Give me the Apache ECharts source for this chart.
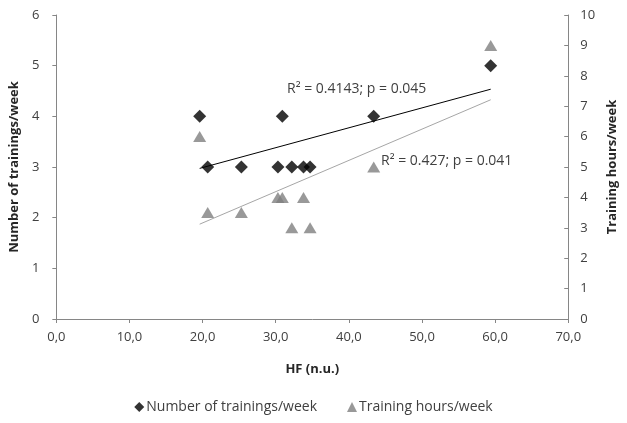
<!DOCTYPE html>
<html>
<head>
<meta charset="utf-8">
<script src="https://cdn.jsdelivr.net/npm/echarts@6/dist/echarts.min.js"></script>
<style>
  html, body { margin: 0; padding: 0; background: #fff; }
  #chart { width: 627px; height: 423px; }
</style>
</head>
<body>
<div id="chart"></div>
<script>
// HF (n.u.) of each subject
const hf = [19.6, 20.7, 25.3, 30.3, 30.9, 32.2, 33.8, 34.7, 43.4, 59.4];
// Number of trainings per week (left axis)
const trainings = [4, 3, 3, 3, 4, 3, 3, 3, 4, 5];
// Training hours per week (right axis)
const hours = [6, 3.5, 3.5, 4, 4, 3, 4, 3, 5, 9];

const xTicks = { min: 0, max: 70, interval: 10 };
const leftTicks = { min: 0, max: 6, interval: 1 };
const rightTicks = { min: 0, max: 10, interval: 1 };

const labelTrainings = 'R\u00B2 = 0.4143; p = 0.045';
const labelHours = 'R\u00B2 = 0.427; p = 0.041';

// Least-squares line through the points, drawn from smallest to largest x
function fitLine(xs, ys) {
  const n = xs.length;
  const mx = xs.reduce((a, b) => a + b, 0) / n;
  const my = ys.reduce((a, b) => a + b, 0) / n;
  let sxy = 0, sxx = 0;
  for (let i = 0; i < n; i++) {
    sxy += (xs[i] - mx) * (ys[i] - my);
    sxx += (xs[i] - mx) * (xs[i] - mx);
  }
  const k = sxy / sxx, b = my - k * mx;
  const x0 = Math.min(...xs), x1 = Math.max(...xs);
  return [[x0, k * x0 + b], [x1, k * x1 + b]];
}

const font = "'Open Sans', sans-serif";
const axisLine = { show: true, lineStyle: { color: '#868686', width: 1 } };
const titleStyle = { fontFamily: font, fontWeight: 'bold', fontSize: 13, color: '#262626' };

const chart = echarts.init(document.getElementById('chart'), null, { renderer: 'canvas' });
chart.setOption({
  animation: false,
  backgroundColor: '#ffffff',
  textStyle: { fontFamily: font },
  grid: { left: 55, right: 56, top: 15, bottom: 104, containLabel: false },
  legend: {
    bottom: 4,
    left: 'center',
    itemGap: 30,
    itemWidth: 10,
    itemHeight: 10,
    textStyle: { fontFamily: font, fontSize: 14, color: '#404040', padding: [0, 0, 0, -3] },
    data: [
      { name: 'Number of trainings/week', icon: 'diamond' },
      { name: 'Training hours/week', icon: 'triangle' }
    ]
  },
  xAxis: {
    type: 'value',
    min: xTicks.min, max: xTicks.max, interval: xTicks.interval,
    name: 'HF (n.u.)',
    nameLocation: 'middle',
    nameGap: 44,
    nameTextStyle: titleStyle,
    axisLine: axisLine,
    axisTick: { show: true, length: 4, lineStyle: { color: '#868686' } },
    axisLabel: {
      fontFamily: font, fontSize: 13, color: '#404040', margin: 12,
      formatter: v => v.toFixed(1).replace('.', ',')
    },
    splitLine: { show: false }
  },
  yAxis: [
    {
      type: 'value',
      position: 'left',
      min: leftTicks.min, max: leftTicks.max, interval: leftTicks.interval,
      name: 'Number of trainings/week',
      nameLocation: 'middle',
      nameRotate: 90,
      nameGap: 32,
      nameTextStyle: titleStyle,
      axisLine: axisLine,
      axisTick: { show: true, length: 4, lineStyle: { color: '#868686' } },
      axisLabel: { fontFamily: font, fontSize: 13, color: '#404040', margin: 17 },
      splitLine: { show: false }
    },
    {
      type: 'value',
      position: 'right',
      min: rightTicks.min, max: rightTicks.max, interval: rightTicks.interval,
      name: 'Training hours/week',
      nameLocation: 'middle',
      nameRotate: 90,
      nameGap: 36,
      nameTextStyle: titleStyle,
      axisLine: axisLine,
      axisTick: { show: true, inside: true, length: 4, lineStyle: { color: '#868686' } },
      axisLabel: { fontFamily: font, fontSize: 13, color: '#404040', margin: 12 },
      splitLine: { show: false }
    }
  ],
  series: [
    {
      name: 'Number of trainings/week',
      type: 'scatter',
      yAxisIndex: 0,
      symbol: 'diamond',
      symbolSize: [13, 13],
      itemStyle: { color: '#000000' },
      data: hf.map((x, i) => [x, trainings[i]]),
      z: 3
    },
    {
      name: 'Training hours/week',
      type: 'scatter',
      yAxisIndex: 1,
      symbol: 'triangle',
      symbolSize: [13, 11],
      itemStyle: { color: '#808080' },
      data: hf.map((x, i) => [x, hours[i]]),
      z: 3
    },
    {
      name: 'fit-trainings',
      type: 'line',
      yAxisIndex: 0,
      symbol: 'none',
      lineStyle: { color: '#000000', width: 1 },
      data: fitLine(hf, trainings),
      z: 4,
      silent: true
    },
    {
      name: 'fit-hours',
      type: 'line',
      yAxisIndex: 1,
      symbol: 'none',
      lineStyle: { color: '#a6a6a6', width: 1 },
      data: fitLine(hf, hours),
      z: 4,
      silent: true
    }
  ],
  graphic: [
    {
      type: 'text', left: 287, top: 82, z: 10,
      style: { text: labelTrainings, fontFamily: font, fontSize: 14, fill: '#404040' }
    },
    {
      type: 'text', left: 381, top: 154, z: 10,
      style: { text: labelHours, fontFamily: font, fontSize: 14, fill: '#404040' }
    }
  ]
});
</script>
</body>
</html>
